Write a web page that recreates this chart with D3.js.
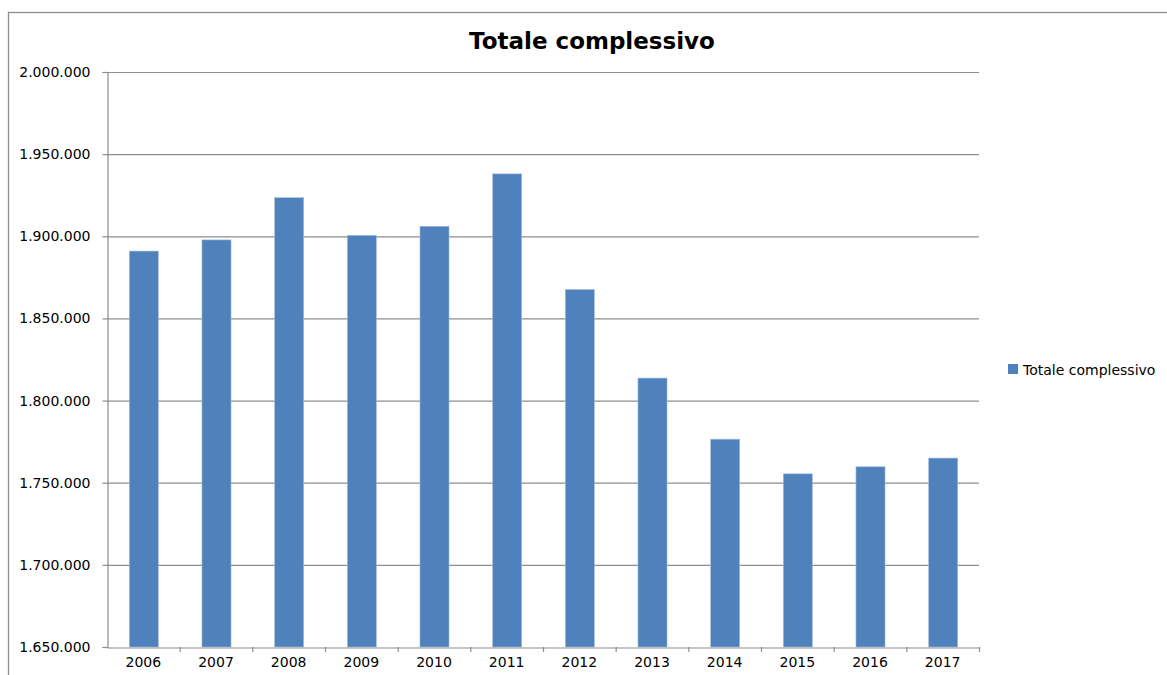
<!DOCTYPE html>
<html>
<head>
<meta charset="utf-8">
<script src="https://cdn.jsdelivr.net/npm/d3@7"></script>
<style>
  body { margin: 0; background: #fff; }
  svg text { font-family: "DejaVu Sans", "Open Sans", sans-serif; fill: #000; }
</style>
</head>
<body>
<div id="chart"></div>
<script>
var years = ["2006", "2007", "2008", "2009", "2010", "2011", "2012", "2013", "2014", "2015", "2016", "2017"];
var totals = [1891000, 1897800, 1923500, 1900600, 1906100, 1938000, 1867600, 1813700, 1776500, 1755400, 1759700, 1765000];
var yTicks = [1650000, 1700000, 1750000, 1800000, 1850000, 1900000, 1950000, 2000000];
var title = "Totale complessivo";

(function() {
    var width = 1167, height = 675;
    var padLeft = 107, padRight = 979, padTop = 72, padBottom = 647;
    var grey = "#8e8e8e";

    var svg = d3.select("#chart").append("svg")
        .attr("width", width)
        .attr("height", height);

    // outer chart frame
    svg.append("rect")
        .attr("x", 8.5).attr("y", 12.5)
        .attr("width", 1200).attr("height", 700)
        .attr("fill", "none")
        .attr("stroke", "#8c8c8c")
        .attr("stroke-width", 1.3);

    var x = d3.scaleBand().domain(years).range([padLeft, padRight]).paddingInner(0.6).paddingOuter(0.3);
    var xEdge = d3.scaleBand().domain(years).range([padLeft, padRight]);
    var y = d3.scaleLinear().domain([1650000, 2000000]).range([padBottom, padTop]);

    var fmt = function(v) { return d3.format(",")(v).replace(/,/g, "."); };

    // gridlines
    svg.append("g")
        .selectAll("line").data(yTicks.slice(1))
        .enter().append("line")
        .attr("x1", padLeft).attr("x2", padRight)
        .attr("y1", function(d) { return y(d) + 0.5; })
        .attr("y2", function(d) { return y(d) + 0.5; })
        .attr("stroke", grey)
        .attr("stroke-width", 1.2);

    // bars
    svg.append("g")
        .selectAll("rect").data(totals)
        .enter().append("rect")
        .attr("x", function(d, i) { return x(years[i]) + 0.5; })
        .attr("y", function(d) { return y(d); })
        .attr("width", x.bandwidth())
        .attr("height", function(d) { return padBottom - y(d); })
        .attr("fill", "#4f81bd")
        .attr("stroke", "#a7bfde")
        .attr("stroke-width", 0.6);

    // y axis
    var yAxis = svg.append("g")
        .attr("transform", "translate(" + (padLeft + 0.5) + ",0)")
        .call(d3.axisLeft(y).tickValues(yTicks).tickFormat(fmt).tickSize(5).tickPadding(12));
    yAxis.select(".domain").attr("stroke", grey).attr("stroke-width", 1.2);
    yAxis.selectAll(".tick line").attr("stroke", grey).attr("stroke-width", 1.2);
    yAxis.selectAll("text").attr("font-size", 14).attr("fill", "#000");

    // x axis
    var xAxis = svg.append("g")
        .attr("transform", "translate(0," + (padBottom + 0.5) + ")")
        .call(d3.axisBottom(xEdge).tickSize(0).tickPadding(10));
    xAxis.select(".domain").attr("stroke", grey).attr("stroke-width", 1.2);
    xAxis.selectAll("text").attr("font-size", 14).attr("fill", "#000");
    svg.append("g")
        .selectAll("line").data(years)
        .enter().append("line")
        .attr("x1", function(d) { return xEdge(d) + xEdge.bandwidth() + 0.5; })
        .attr("x2", function(d) { return xEdge(d) + xEdge.bandwidth() + 0.5; })
        .attr("y1", padBottom).attr("y2", padBottom + 5)
        .attr("stroke", grey)
        .attr("stroke-width", 1.2);

    // title
    svg.append("text")
        .attr("x", 592).attr("y", 49)
        .attr("text-anchor", "middle")
        .attr("font-size", 23)
        .attr("font-weight", "bold")
        .text(title);

    // legend
    svg.append("rect")
        .attr("x", 1008).attr("y", 364)
        .attr("width", 10).attr("height", 10)
        .attr("fill", "#4f81bd");
    svg.append("text")
        .attr("x", 1023).attr("y", 374.5)
        .attr("font-size", 14)
        .text(title);
})();
</script>
</body>
</html>
